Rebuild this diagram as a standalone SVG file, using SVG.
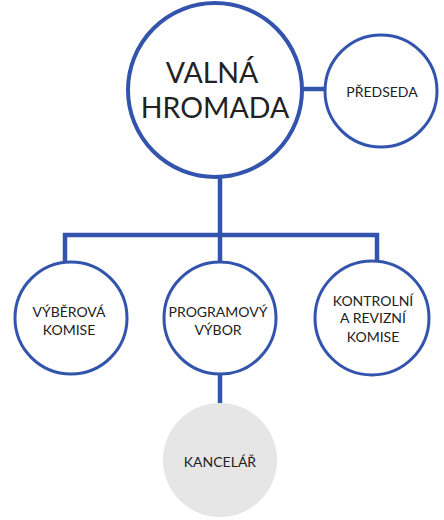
<svg xmlns="http://www.w3.org/2000/svg" width="444" height="520" viewBox="0 0 444 520">
<style>
.node{fill:#fff;stroke:#3254ad;stroke-width:3}
.big{stroke-width:4}
.gray{fill:#e6e6e6;stroke:none}
.conn{fill:none;stroke:#3254ad;stroke-width:4.5}
text{font-family:Lato,"Open Sans","DejaVu Sans",sans-serif;fill:#222;text-anchor:middle}
.t14{font-size:14px}
.t28{font-size:28.5px}
</style>
<rect width="444" height="520" fill="#fff"/>
<g id="connectors">
<path class="conn" d="M302 89H327"/>
<path class="conn" d="M220 176V263"/>
<path class="conn" d="M65 263V235H377V263"/>
<path class="conn" d="M220 374V404"/>
</g>
<g id="valna-hromada">
<circle class="node big" cx="215" cy="90" r="87"/>
<text class="t28" x="212" y="83">VALNÁ</text>
<text class="t28" x="215" y="118">HROMADA</text>
</g>
<g id="predseda">
<circle class="node" cx="381" cy="91" r="56"/>
<text class="t14" x="382" y="97">PŘEDSEDA</text>
</g>
<g id="vyberova-komise">
<circle class="node" cx="71" cy="318" r="56"/>
<text class="t14" x="69" y="317">VÝBĚROVÁ</text>
<text class="t14" x="69" y="335">KOMISE</text>
</g>
<g id="programovy-vybor">
<circle class="node" cx="220" cy="318" r="56"/>
<text class="t14" x="218" y="317">PROGRAMOVÝ</text>
<text class="t14" x="218" y="335">VÝBOR</text>
</g>
<g id="kontrolni-komise">
<circle class="node" cx="372" cy="318" r="57"/>
<text class="t14" x="373" y="306">KONTROLNÍ</text>
<text class="t14" x="373" y="323">A REVIZNÍ</text>
<text class="t14" x="373" y="342">KOMISE</text>
</g>
<g id="kancelar">
<circle class="gray" cx="220" cy="460" r="57"/>
<text class="t14" x="220" y="467">KANCELÁŘ</text>
</g>
</svg>
